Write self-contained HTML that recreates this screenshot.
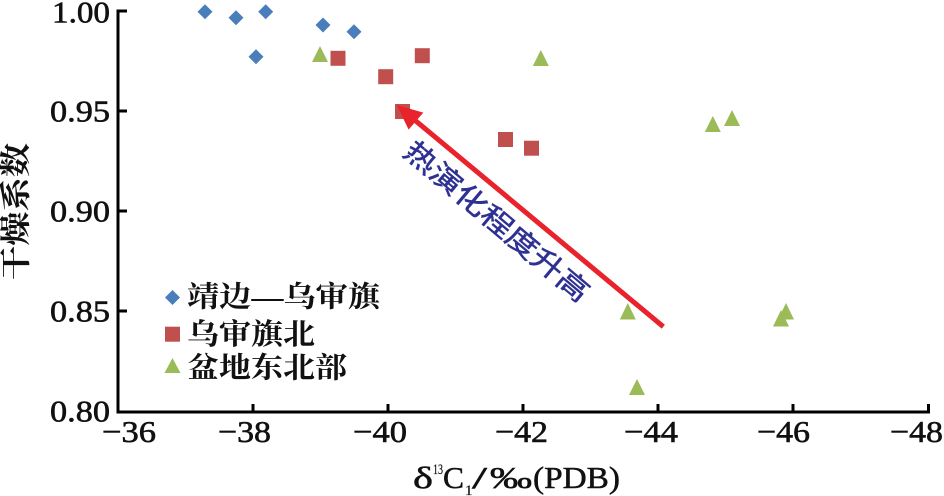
<!DOCTYPE html>
<html>
<head>
<meta charset="utf-8">
<style>
html,body{margin:0;padding:0;background:#fff;}
svg{display:block;}
.num{font-family:"Liberation Serif",serif;font-size:31px;fill:#111;stroke:#111;stroke-width:0.6px;}
.cjk{font-family:"Liberation Serif","Noto Serif CJK SC",serif;font-weight:bold;fill:#111;}
</style>
</head>
<body>
<svg width="944" height="496" viewBox="0 0 944 496" xmlns="http://www.w3.org/2000/svg">
  <rect width="944" height="496" fill="#fff"/>

  <!-- axes -->
  <line x1="118" y1="9.5" x2="118" y2="413.5" stroke="#000" stroke-width="3"/>
  <line x1="116.5" y1="412" x2="930" y2="412" stroke="#000" stroke-width="3"/>
  <g stroke="#000" stroke-width="3">
    <line x1="118" y1="11" x2="127" y2="11"/>
    <line x1="118" y1="111" x2="127" y2="111"/>
    <line x1="118" y1="211" x2="127" y2="211"/>
    <line x1="118" y1="311" x2="127" y2="311"/>
    <line x1="253" y1="412" x2="253" y2="404"/>
    <line x1="388" y1="412" x2="388" y2="404"/>
    <line x1="523" y1="412" x2="523" y2="404"/>
    <line x1="658" y1="412" x2="658" y2="404"/>
    <line x1="793" y1="412" x2="793" y2="404"/>
    <line x1="928.5" y1="412" x2="928.5" y2="404"/>
  </g>

  <!-- y tick labels -->
  <text class="num" x="52" y="22.5" textLength="58" lengthAdjust="spacingAndGlyphs">1.00</text>
  <text class="num" x="50" y="121.5" textLength="60" lengthAdjust="spacingAndGlyphs">0.95</text>
  <text class="num" x="50" y="221.5" textLength="60" lengthAdjust="spacingAndGlyphs">0.90</text>
  <text class="num" x="50" y="321.5" textLength="60" lengthAdjust="spacingAndGlyphs">0.85</text>
  <text class="num" x="50" y="421.5" textLength="60" lengthAdjust="spacingAndGlyphs">0.80</text>

  <!-- x tick labels -->
  <text class="num" x="102" y="442" textLength="54" lengthAdjust="spacingAndGlyphs">−36</text>
  <text class="num" x="218" y="442" textLength="53" lengthAdjust="spacingAndGlyphs">−38</text>
  <text class="num" x="353" y="442" textLength="54" lengthAdjust="spacingAndGlyphs">−40</text>
  <text class="num" x="495" y="442" textLength="53" lengthAdjust="spacingAndGlyphs">−42</text>
  <text class="num" x="624" y="442" textLength="54" lengthAdjust="spacingAndGlyphs">−44</text>
  <text class="num" x="757" y="442" textLength="53" lengthAdjust="spacingAndGlyphs">−46</text>
  <text class="num" x="890" y="442" textLength="53" lengthAdjust="spacingAndGlyphs">−48</text>

  <!-- x title -->
  <g font-family="Liberation Serif, serif" fill="#111" stroke="#111" stroke-width="0.5">
    <text x="413" y="488" font-size="31" textLength="20" lengthAdjust="spacingAndGlyphs">δ</text>
    <text x="433" y="474" font-size="15" textLength="10" lengthAdjust="spacingAndGlyphs" stroke-width="0.2">13</text>
    <text x="443" y="488" font-size="31" textLength="21" lengthAdjust="spacingAndGlyphs">C</text>
    <text x="465" y="495" font-size="15" stroke-width="0.2">1</text>
    <text x="472" y="488" font-size="31" textLength="15" lengthAdjust="spacingAndGlyphs">/</text>
    <text x="490" y="488" font-size="31" textLength="42" lengthAdjust="spacingAndGlyphs">‰</text>
    <text x="533" y="488" font-size="31" textLength="87" lengthAdjust="spacingAndGlyphs">(PDB)</text>
  </g>

  <!-- y title -->
  <text class="cjk" font-size="31" transform="translate(16,211.5) rotate(-90)" x="-68.5" y="0" dominant-baseline="central" textLength="137" lengthAdjust="spacingAndGlyphs">干燥系数</text>

  <!-- diamonds -->
  <g fill="#4a7ebb">
    <polygon points="205,4.2 212.5,11.7 205,19.2 197.5,11.7"/>
    <polygon points="236,10.2 243.5,17.7 236,25.2 228.5,17.7"/>
    <polygon points="265.7,4.2 273.2,11.7 265.7,19.2 258.2,11.7"/>
    <polygon points="256,49.2 263.5,56.7 256,64.2 248.5,56.7"/>
    <polygon points="323,17.5 330.5,25 323,32.5 315.5,25"/>
    <polygon points="354,24.2 361.5,31.7 354,39.2 346.5,31.7"/>
  </g>

  <!-- triangles -->
  <g fill="#9bbb59">
    <polygon points="320,46 328,62 312,62"/>
    <polygon points="540.8,50 548.8,66 532.8,66"/>
    <polygon points="712.8,116 720.8,132 704.8,132"/>
    <polygon points="732,110 740,126 724,126"/>
    <polygon points="627.8,303 635.8,319.5 619.8,319.5"/>
    <polygon points="786,303 794,319.5 778,319.5"/>
    <polygon points="781,310 789,326.5 773,326.5"/>
    <polygon points="637,379 645,395 629,395"/>
  </g>

  <!-- squares -->
  <g fill="#c0504d">
    <rect x="330.5" y="50.8" width="15" height="15"/>
    <rect x="378.2" y="69.2" width="15" height="15"/>
    <rect x="414.8" y="48.2" width="15" height="15"/>
    <rect x="395" y="104" width="15" height="15"/>
    <rect x="498" y="132" width="15" height="15"/>
    <rect x="524" y="140.7" width="15" height="15"/>
  </g>

  <!-- arrow -->
  <line x1="663.3" y1="326.7" x2="412" y2="117.8" stroke="#e8232b" stroke-width="5"/>
  <polygon points="396.7,105 423.3,112.6 408.6,129.6" fill="#e8232b"/>
  <text transform="translate(496.7,221.7) rotate(40)" x="0" y="0" text-anchor="middle" dominant-baseline="central"
        font-family="Liberation Sans, Noto Sans CJK SC, sans-serif" font-size="28" fill="#2e3192" stroke="#2e3192" stroke-width="0.5"
        textLength="232" lengthAdjust="spacingAndGlyphs">热演化程度升高</text>

  <!-- legend -->
  <polygon points="172.5,290 180,297.5 172.5,305 165,297.5" fill="#4a7ebb"/>
  <rect x="165" y="326.7" width="15" height="15" fill="#c0504d"/>
  <polygon points="172.5,358 180.5,373 164.5,373" fill="#9bbb59"/>
  <text class="cjk" font-size="29" x="187" y="297.5" dominant-baseline="central" textLength="193" lengthAdjust="spacingAndGlyphs">靖边—乌审旗</text>
  <text class="cjk" font-size="29" x="187" y="335" dominant-baseline="central" textLength="128" lengthAdjust="spacingAndGlyphs">乌审旗北</text>
  <text class="cjk" font-size="29" x="187" y="368.5" dominant-baseline="central" textLength="160" lengthAdjust="spacingAndGlyphs">盆地东北部</text>
</svg>
</body>
</html>
